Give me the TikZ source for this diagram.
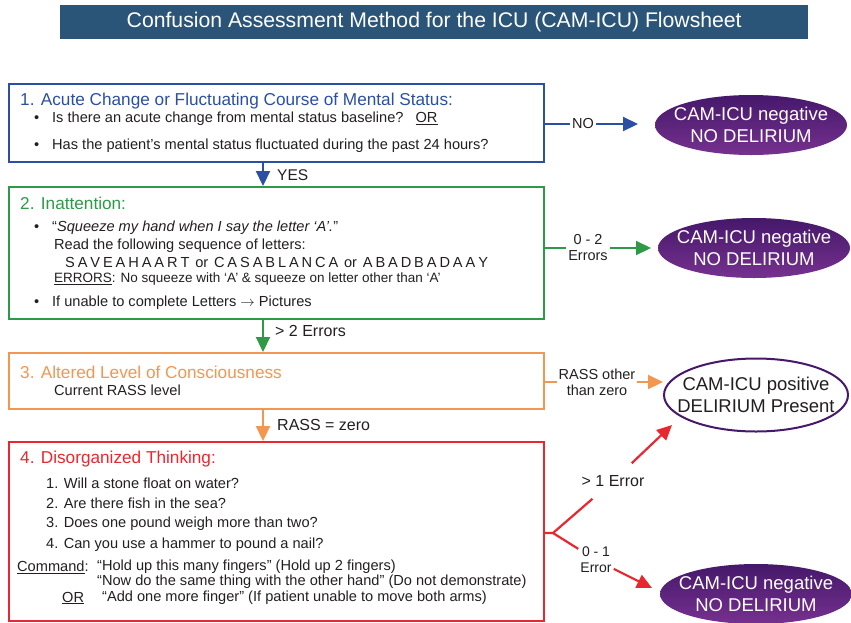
\documentclass[tikz,border=0pt]{standalone}
\usepackage{fontspec}
\setmainfont{Liberation Sans}
\usetikzlibrary{arrows.meta,shapes.geometric,positioning}
\definecolor{titlebar}{HTML}{2A5478}
\definecolor{cblue}{HTML}{2B4FA2}
\definecolor{cgreen}{HTML}{2E9A47}
\definecolor{corange}{HTML}{F29650}
\definecolor{cred}{HTML}{E8282E}
\definecolor{cpurpledark}{HTML}{45186A}
\definecolor{cpurplelight}{HTML}{76318F}
\definecolor{ctext}{HTML}{231F20}
\newcommand{\bul}{\makebox[18pt][l]{\textbullet}}
\begin{document}
\begin{tikzpicture}[x=1pt,y=-1pt,>={Triangle[width=14pt,length=15pt]},
    box/.style={draw=#1,line width=2.2pt,anchor=north west,minimum width=535pt,inner sep=0pt},
    head/.style={anchor=west,inner sep=0pt,text=#1,font=\fontsize{17.2}{20}\selectfont},
    body/.style={anchor=west,inner sep=0pt,text=ctext,font=\fontsize{14.6}{17}\selectfont},
    lbl/.style={inner sep=2pt,align=center,text=ctext,font=\fontsize{14.5}{16}\selectfont},
    flow/.style={line width=2.2pt,draw=#1},
    outcome/.style={ellipse,minimum width=192pt,minimum height=60pt,inner xsep=-20pt,inner ysep=0pt,align=center,font=\fontsize{18.5}{22}\selectfont},
    neg/.style={outcome,top color=cpurpledark,bottom color=cpurplelight,text=white},
    posit/.style={outcome,draw=cpurpledark,line width=2pt,fill=white,text=ctext}]
  \useasboundingbox (0,0) rectangle (851,622);
  \clip (0,0) rectangle (851,622);
  % title
  \node[fill=titlebar,anchor=north west,minimum width=748pt,minimum height=34pt,text=white,
    font=\fontsize{21.2}{24}\selectfont] (title) at (60,5) {Confusion Assessment Method for the ICU (CAM-ICU) Flowsheet};
  % feature boxes
  \node[box=cblue,minimum height=78pt] (acute) at (8,83) {};
  \node[box=cgreen,minimum height=132pt] (inatt) at (8,186) {};
  \node[box=corange,minimum height=56pt] (consc) at (8,352) {};
  \node[box=cred,minimum height=179pt] (disorg) at (8,441) {};
  % 1
  \node[head=cblue] (h1) at (20,101) {1. Acute Change or Fluctuating Course of Mental Status:};
  \node[body] (t11) at (34,119) {\bul Is there an acute change from mental status baseline?\hspace{12pt}\underline{OR}};
  \node[body] (t12) at (34,146) {\bul Has the patient’s mental status fluctuated during the past 24 hours?};
  % 2
  \node[head=cgreen] (h2) at (20,203) {2. Inattention:};
  \node[body] (t21) at (34,228) {\bul “\textit{Squeeze my hand when I say the letter ‘A’.}”};
  \node[body] (t22) at (54,246) {Read the following sequence of letters:};
  \node[body,execute at begin node={\spaceskip=2.9pt}] (t23) at (65,262) {S A V E A H A A R T\ \ or\ \ C A S A B L A N C A\ \ or\ \ A B A D B A D A A Y};
  \node[body,font=\fontsize{13.5}{16}\selectfont] (t24) at (54,279) {\underline{ERRORS}: No squeeze with ‘A’ \& squeeze on letter other than ‘A’};
  \node[body] (t25) at (34,303) {\bul If unable to complete Letters $\rightarrow$ Pictures};
  % 3
  \node[head=corange] (h3) at (20,372) {3. Altered Level of Consciousness};
  \node[body] (t31) at (54,390) {Current RASS level};
  % 4
  \node[head=cred] (h4) at (20,459) {4. Disorganized Thinking:};
  \node[body] (q1) at (46,483) {1. Will a stone float on water?};
  \node[body] (q2) at (46,503) {2. Are there fish in the sea?};
  \node[body] (q3) at (46,524) {3. Does one pound weigh more than two?};
  \node[body] (q4) at (46,545) {4. Can you use a hammer to pound a nail?};
  \node[body] (c0) at (17,567) {\underline{Command}:};
  \node[body] (c1) at (97,567) {“Hold up this many fingers” (Hold up 2 fingers)};
  \node[body] (c2) at (97,582) {“Now do the same thing with the other hand” (Do not demonstrate)};
  \node[body] (c3) at (62,598) {\underline{OR}};
  \node[body] (c4) at (102,598) {“Add one more finger” (If patient unable to move both arms)};
  % outcomes
  \node[neg] (neg1) at (751,125) {CAM-ICU negative\\NO DELIRIUM};
  \node[neg] (neg2) at (754,248) {CAM-ICU negative\\NO DELIRIUM};
  \node[posit,minimum width=184pt,minimum height=73pt] (pos) at (756,395) {CAM-ICU positive\\DELIRIUM Present};
  \node[neg] (neg3) at (756,594) {CAM-ICU negative\\NO DELIRIUM};
  % arrow labels
  \coordinate (ax) at (263,0);
  \node[lbl,anchor=west,font=\fontsize{15.5}{17}\selectfont] (yes) at (275,175) {YES};
  \node[lbl,anchor=west,font=\fontsize{16}{18}\selectfont] (gt2) at (273,331) {> 2 Errors};
  \node[lbl,anchor=west,font=\fontsize{16}{18}\selectfont] (rz) at (275,425) {RASS = zero};
  \node[lbl] (no) at (583,124) {NO};
  \node[lbl] (le2) at (588,248) {0 - 2\\Errors};
  \node[lbl] (rne) at (597,382) {RASS other\\than zero};
  \node[lbl,inner ysep=12pt,font=\fontsize{16}{18}\selectfont] (gt1) at (613,481) {> 1 Error};
  \node[lbl,font=\fontsize{14}{16}\selectfont] (le1) at (596,560) {0 - 1\\Error};
  \coordinate (br) at (553,533);
  \coordinate (t1) at (672,425);
  \coordinate (t2) at (652,588);
  % connectors
  \draw[flow=cblue,->] (acute.south -| ax) -- (inatt.north -| ax);
  \draw[flow=cgreen,->] (inatt.south -| ax) -- (consc.north -| ax);
  \draw[flow=corange,->] (consc.south -| ax) -- (disorg.north -| ax);
  \draw[flow=cblue] (acute.east |- no) -- (no);
  \draw[flow=cblue,->] (no) -- (no -| 638,0);
  \draw[flow=cgreen] (inatt.east |- le2) -- (le2);
  \draw[flow=cgreen,->] (le2) -- (le2 -| 651,0);
  \draw[flow=corange] (consc.east |- rne) -- (rne);
  \draw[flow=corange,->] (rne) -- (rne -| 663,0);
  \draw[flow=cred] (disorg.east |- br) -- (br) -- (gt1);
  \draw[flow=cred,->] (gt1) -- (t1);
  \draw[flow=cred] (br) -- (le1);
  \draw[flow=cred,->] (le1) -- (t2);
\end{tikzpicture}
\end{document}
